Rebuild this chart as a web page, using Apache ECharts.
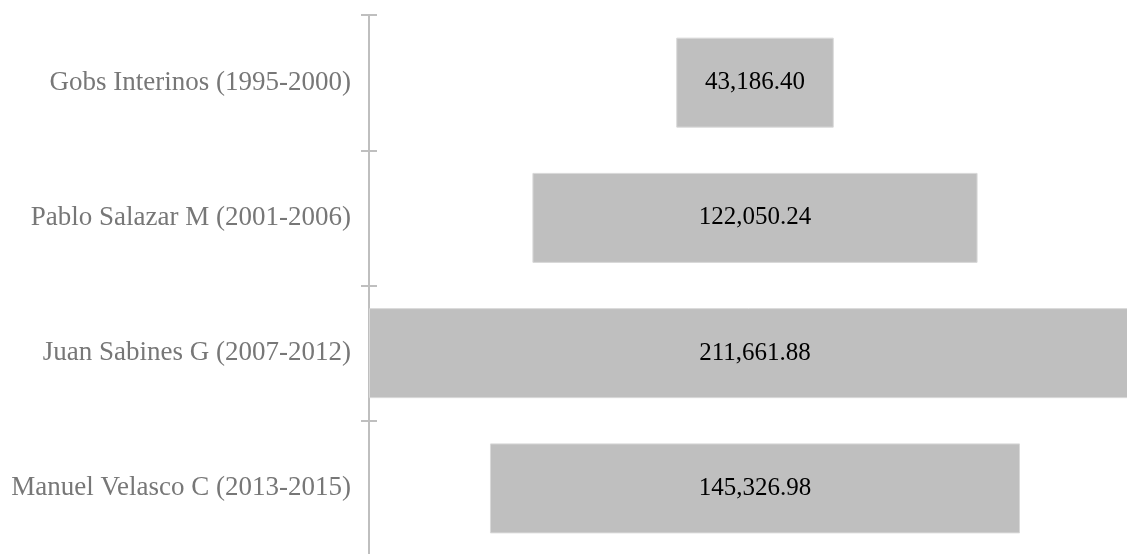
<!DOCTYPE html>
<html><head><meta charset="utf-8">
<script src="https://cdn.jsdelivr.net/npm/echarts@6/dist/echarts.min.js"></script>
<style>html,body{margin:0;padding:0;background:#fff}#c{width:1127px;height:554px}</style>
</head><body><div id="c"></div>
<script>
const categories = ['Gobs Interinos (1995-2000)','Pablo Salazar M (2001-2006)','Juan Sabines G (2007-2012)','Manuel Velasco C (2013-2015)'];
const values = [43186.40, 122050.24, 211661.88, 145326.98];

const maxV = Math.max(...values);
const offsets = values.map(v => (maxV - v) / 2);
const fmt = v => v.toLocaleString('en-US',{minimumFractionDigits:2,maximumFractionDigits:2});

const chart = echarts.init(document.getElementById('c'), null, {renderer:'canvas'});
chart.setOption({
  animation:false,
  grid:{left:369, top:15, width:772, height:541, outerBoundsMode:'none', containLabel:false},
  xAxis:{type:'value', min:0, max:maxV, show:false},
  yAxis:[{
    type:'category', data:categories, inverse:true,
    axisLine:{show:true, lineStyle:{color:'#bfbfbf', width:2}},
    axisTick:{show:true, length:8, lineStyle:{color:'#bfbfbf', width:2}},
    axisLabel:{margin:18, color:'#777777', fontFamily:'Liberation Serif', fontSize:27}
  },{
    type:'category', data:categories, inverse:true, position:'left',
    axisLine:{show:false},
    axisTick:{show:true, inside:true, length:8, lineStyle:{color:'#bfbfbf', width:2}},
    axisLabel:{show:false}
  }],
  series:[{
    type:'bar', stack:'s', data:offsets, itemStyle:{color:'transparent'}, barWidth:90, silent:true
  },{
    type:'bar', stack:'s', data:values, barWidth:90,
    itemStyle:{color:'#bfbfbf', borderColor:'#d9d9d9', borderWidth:1},
    label:{show:true, position:'inside', color:'#000', fontFamily:'Liberation Serif', fontSize:25,
      formatter:p => fmt(values[p.dataIndex])}
  }]
});
</script></body></html>
